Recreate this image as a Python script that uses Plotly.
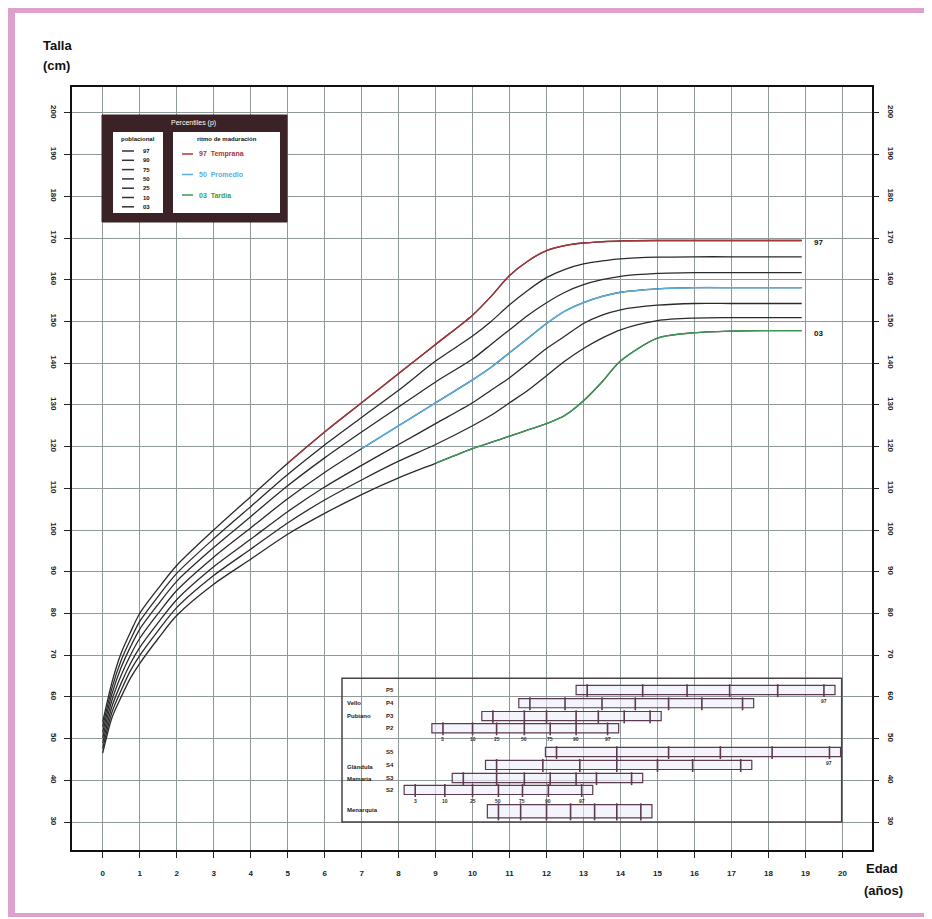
import plotly.graph_objects as go

# ---------------- data ----------------
ages = [0, 0.25, 0.5, 0.75, 1, 1.5, 2, 3, 4, 5, 6, 7, 8, 9, 10, 10.5, 11, 11.5,
        12, 12.5, 13, 13.5, 14, 15, 16, 17, 18, 18.9]
p97 = [54, 63.5, 70.5, 75.5, 80, 86, 91.5, 100, 108, 116, 123.5, 130.5, 137.5, 144.5,
       151.5, 156, 161, 164.5, 167, 168.2, 168.8, 169.1, 169.3, 169.4, 169.4, 169.4, 169.4, 169.4]
p90 = [52.8, 62.1, 68.8, 73.7, 78.1, 84.1, 89.6, 97.9, 105.6, 113.3, 120.4, 127, 133.5, 140.5,
       146.5, 150, 154, 157.5, 160.5, 162.5, 163.8, 164.5, 165, 165.4, 165.5, 165.5, 165.5, 165.5]
p75 = [51.5, 60.7, 67.1, 72, 76.2, 82.2, 87.7, 95.8, 103.2, 110.6, 117.3, 123.5, 129.5, 135.5,
       141, 144.5, 148, 151.5, 154.5, 157, 158.8, 160, 160.8, 161.5, 161.7, 161.7, 161.7, 161.7]
p50 = [50.2, 59.2, 65.2, 70, 74, 80, 85.5, 93.5, 100.5, 107.5, 113.8, 119.5, 125, 130.5,
       136, 139, 142.5, 146, 149.5, 152.5, 154.5, 156, 157, 157.8, 158.1, 158.1, 158.1, 158.1]
p25 = [48.9, 57.7, 63.3, 68, 71.8, 77.8, 83.3, 91.2, 97.8, 104.4, 110.3, 115.5, 120.5, 125.5,
       130.5, 133.5, 136.5, 140, 143.5, 146.5, 149.5, 151.5, 152.8, 153.9, 154.3, 154.3, 154.3, 154.3]
p10 = [47.6, 56.3, 61.6, 66.3, 69.9, 75.9, 81.4, 89.1, 95.4, 101.7, 107.2, 112, 116.5, 120.5,
       125, 127.5, 130.5, 133.5, 137, 140.5, 143.5, 146, 148, 150.2, 150.8, 150.9, 150.9, 150.9]
p3 = [46.5, 55, 60, 64.5, 68, 74, 79.5, 87, 93, 99, 104, 108.5, 112.5, 116,
      119.5, 121, 122.5, 124, 125.5, 127.5, 131, 135.5, 140.5, 146, 147.3, 147.7, 147.8, 147.8]

pct_labels = ["97", "90", "75", "50", "25", "10", "03"]
rhythm_labels = ["97  Temprana", "50  Promedio", "03  Tardía"]

x_ticks = list(range(0, 21))
y_ticks = list(range(30, 201, 10))

# maturation stages (ages at percentiles 3..97)
stage_names = ["P5", "P4", "P3", "P2", "S5", "S4", "S3", "S2", ""]
stage_ages = [
    [13.1, 14.6, 15.8, 16.95, 18.25, 19.5],
    [11.55, 12.5, 13.5, 14.4, 15.3, 16.2, 17.3],
    [10.55, 11.4, 12.0, 12.8, 13.4, 14.1, 14.8],
    [9.2, 10.0, 10.65, 11.4, 12.1, 12.8, 13.65],
    [12.27, 13.9, 15.3, 16.7, 18.1, 19.65],
    [10.65, 11.9, 12.9, 13.9, 15.0, 15.95, 17.25],
    [9.75, 10.65, 11.4, 12.1, 12.8, 13.35, 14.3],
    [8.45, 9.25, 10.0, 10.7, 11.35, 12.05, 12.95],
    [10.7, 11.3, 12.0, 12.65, 13.3, 13.9, 14.55],
]
stage_pct_labels = ["3", "10", "25", "50", "75", "90", "97"]
group_labels = ["Vello", "Pubiano", "Glándula", "Mamaria", "Menarquia"]

# ---------------- layout helpers (screen pixel coords; page body has 8px margin) ----------------
W, H = 924, 911
ML, MT = 64, 79
PW, PH = 800, 763
MR, MB = W - ML - PW, H - MT - PH
FONT = "Liberation Sans Narrow, Arial Narrow, Liberation Sans, Arial, sans-serif"
PINK = "#dea0cc"
CURVE = "#2a2a2a"
RED, BLUE, GREEN = "#a8343a", "#5aaedd", "#3c9a55"
FRAME = "#3a2226"


def px(x):
    return (x - 72) / PW


def py(y):
    return (850 - y) / PH


def ann(x, y, text, size, color="#111", xanchor="center", ref="paper"):
    if ref == "paper":
        x, y = px(x), py(y)
        xr, yr = "paper", "paper"
    else:
        xr, yr = "x", "y"
    return dict(xref=xr, yref=yr, x=x, y=y, text=text, showarrow=False,
                xanchor=xanchor, yanchor="middle",
                font=dict(family=FONT, size=size, color=color))


fig = go.Figure()

# percentile curves
for vals in [p97, p90, p75, p50, p25, p10, p3]:
    fig.add_trace(go.Scatter(x=ages, y=vals, mode="lines", showlegend=False,
                             hoverinfo="skip",
                             line=dict(color=CURVE, width=1.3, shape="spline", smoothing=0.8)))

# maturation rhythm overlays
fig.add_trace(go.Scatter(x=ages[9:], y=p97[9:], mode="lines", showlegend=False, hoverinfo="skip",
                         line=dict(color=RED, width=1.4, shape="spline", smoothing=0.8)))
fig.add_trace(go.Scatter(x=ages[11:], y=p50[11:], mode="lines", showlegend=False, hoverinfo="skip",
                         line=dict(color=BLUE, width=1.5, shape="spline", smoothing=0.8)))
fig.add_trace(go.Scatter(x=ages[13:], y=p3[13:], mode="lines", showlegend=False, hoverinfo="skip",
                         line=dict(color=GREEN, width=1.4, shape="spline", smoothing=0.8)))

# invisible trace to activate right-hand axis
fig.add_trace(go.Scatter(x=ages, y=p97, yaxis="y2", mode="lines", showlegend=False,
                         hoverinfo="skip", line=dict(color="rgba(0,0,0,0)", width=0)))

shapes = []
annotations = []

# pink page frame
for (x0, x1, y0, y1) in [(7, 930, 3, 13), (7, 15, 3, 917), (926, 930, 3, 917), (7, 930, 913, 917)]:
    shapes.append(dict(type="rect", xref="paper", yref="paper", x0=px(x0), x1=px(x1),
                       y0=py(y1), y1=py(y0), fillcolor=PINK, line_width=0, layer="below"))

# legend box
shapes.append(dict(type="rect", xref="paper", yref="paper", x0=px(102), x1=px(287),
                   y0=py(222), y1=py(115), fillcolor=FRAME, line=dict(color=FRAME, width=1)))
for (x0, x1) in [(113, 163), (173, 280)]:
    shapes.append(dict(type="rect", xref="paper", yref="paper", x0=px(x0), x1=px(x1),
                       y0=py(213), y1=py(132), fillcolor="white", line_width=0))
annotations.append(ann(193, 123, "Percentiles (p)", 7, "white"))
annotations.append(ann(138, 139, "<b>poblacional</b>", 6))
annotations.append(ann(227, 139, "<b>ritmo de maduración</b>", 6))
for i, lab in enumerate(pct_labels):
    yy = 151 + i * 9.3
    shapes.append(dict(type="line", xref="paper", yref="paper", x0=px(122), x1=px(134),
                       y0=py(yy), y1=py(yy), line=dict(color="#333", width=1.5)))
    annotations.append(ann(146, yy, "<b>%s</b>" % lab, 6))
for i, (lab, col) in enumerate(zip(rhythm_labels, [RED, BLUE, GREEN])):
    yy = 154 + i * 20.5
    shapes.append(dict(type="line", xref="paper", yref="paper", x0=px(182), x1=px(193),
                       y0=py(yy), y1=py(yy), line=dict(color=col, width=1.5)))
    annotations.append(ann(197, yy, "<b>%s</b>" % lab, 7, col, xanchor="left"))

# curve end labels
annotations.append(ann(818, 243, "<b>97</b>", 8))
annotations.append(ann(818, 333, "<b>03</b>", 8))

# axis titles
annotations.append(ann(41, 45, "<b>Talla</b>", 13, xanchor="left"))
annotations.append(ann(41, 66, "<b>(cm)</b>", 13, xanchor="left"))
annotations.append(ann(864, 868, "<b>Edad</b>", 13, xanchor="left"))
annotations.append(ann(862, 890, "<b>(años)</b>", 13, xanchor="left"))

# maturation inset
shapes.append(dict(type="rect", xref="x", yref="y", x0=6.47, x1=19.98, y0=30, y1=64.5,
                   line=dict(color="#4a4048", width=1.5), fillcolor="rgba(0,0,0,0)"))
row_y = [61.65, 58.5, 55.4, 52.5, 46.8, 43.7, 40.55, 37.7, 32.6]
BAR = "#5b3b50"
for name, vals, yc in zip(stage_names, stage_ages, row_y):
    hh = 1.1 if name else 1.6
    shapes.append(dict(type="rect", xref="x", yref="y", x0=vals[0] - 0.3, x1=vals[-1] + 0.3,
                       y0=yc - hh, y1=yc + hh, line=dict(color=BAR, width=1.2),
                       fillcolor="rgba(236,236,250,0.6)"))
    for v in vals:
        shapes.append(dict(type="line", xref="x", yref="y", x0=v, x1=v, y0=yc - hh - 0.6,
                           y1=yc + hh + 0.3, line=dict(color=BAR, width=1.6)))
    if name:
        annotations.append(ann(7.77, yc, "<b>%s</b>" % name, 6, "#222", ref="data"))
for ri in (3, 7):
    for v, lab in zip(stage_ages[ri], stage_pct_labels):
        annotations.append(ann(v, row_y[ri] - 2.6, "<b>%s</b>" % lab, 5, "#333", ref="data"))
for ri in (0, 4):
    annotations.append(ann(stage_ages[ri][-1], row_y[ri] - 2.6, "<b>97</b>", 5, "#333", ref="data"))
for lab, yc in zip(group_labels, [58.5, 55.4, 43.2, 40.3, 32.9]):
    annotations.append(ann(6.55, yc, "<b>%s</b>" % lab, 6, "#222", xanchor="left", ref="data"))

GRID = "#8f9999"
tickfont = dict(family=FONT, size=8, color="#222", weight="bold")

fig.update_layout(
    width=W, height=H, margin=dict(l=ML, r=MR, t=MT, b=MB, autoexpand=False),
    paper_bgcolor="white", plot_bgcolor="white", showlegend=False,
    shapes=shapes, annotations=annotations,
    xaxis=dict(range=[-0.83, 20.8], tickvals=x_ticks, ticktext=[str(t) for t in x_ticks],
               showgrid=True, gridcolor=GRID, gridwidth=1, zeroline=False,
               showline=True, linecolor="#111", linewidth=2, mirror=True,
               ticks="outside", ticklen=6, tickcolor="#222", tickwidth=1,
               tickfont=tickfont, ticklabelstandoff=8),
    yaxis=dict(range=[23.3, 206.2], tickvals=y_ticks, ticktext=[str(t) for t in y_ticks],
               showgrid=True, gridcolor=GRID, gridwidth=1, zeroline=False,
               showline=True, linecolor="#111", linewidth=2, mirror=True,
               ticks="outside", ticklen=6, tickcolor="#222", tickwidth=1,
               tickangle=90, tickfont=tickfont, ticklabelstandoff=3),
    yaxis2=dict(range=[23.3, 206.2], tickvals=y_ticks, ticktext=[str(t) for t in y_ticks],
                overlaying="y", side="right", anchor="x", showgrid=False, zeroline=False,
                showline=False, ticks="outside", ticklen=6, tickcolor="#222", tickwidth=1,
                tickangle=90, tickfont=tickfont, ticklabelstandoff=6),
)

fig.write_html("out.html")
